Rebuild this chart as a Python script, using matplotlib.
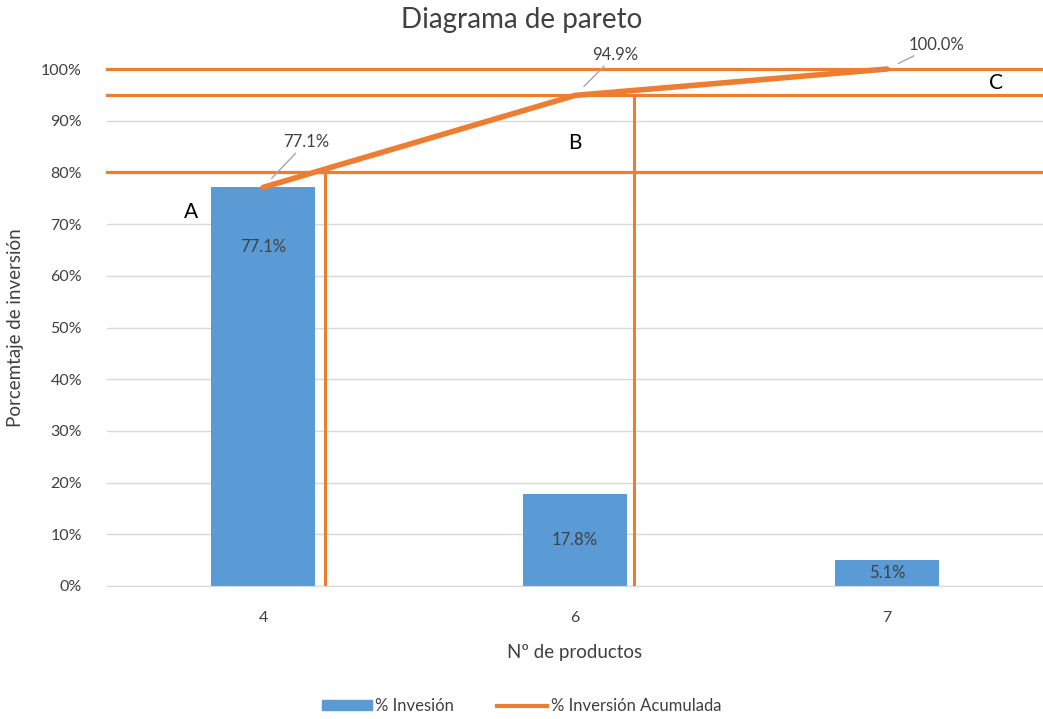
#!/usr/bin/env python3
"""
Pareto chart: % inversion per product group with cumulative line
"""

import matplotlib
matplotlib.use("Agg")
import matplotlib.pyplot as plt
from matplotlib.lines import Line2D
from matplotlib.patches import Patch

# data
categories = ["4", "6", "7"]
inversion = [77.1, 17.8, 5.1]          # % Invesión
acumulada = [77.1, 94.9, 100.0]        # % Inversión Acumulada
cortes = [80, 95, 100]                 # A/B/C limits
zonas = ["A", "B", "C"]

BLUE = "#5B9BD5"
ORANGE = "#ED7D31"
TXT = "#404040"

plt.rcParams["font.family"] = ["Lato", "DejaVu Sans"]

fig = plt.figure(figsize=(10.43, 7.19), dpi=100)
ax = fig.add_axes([0.1026, 0.185, 0.8974, 0.719])

x = list(range(len(categories)))

# 1. bars
ax.bar(x, inversion, width=0.333, color=BLUE, zorder=2)
for xi, v in zip(x, inversion):
    ax.text(xi, max(v / 2, v - 11.5), f"{v:.1f}%", ha="center", va="center",
            fontsize=12, color=TXT, zorder=5)

# 2. ABC limit lines
for c in cortes:
    ax.axhline(c, color=ORANGE, lw=2.3, zorder=3, clip_on=False)
ax.vlines([x[0] + 0.2, x[1] + 0.19], 0, cortes[:2], color=ORANGE, lw=2.2, zorder=3)

# 3. cumulative line
ax.plot(x, acumulada, color=ORANGE, lw=4, zorder=4, solid_capstyle="round",
        clip_on=False)
offsets = [(43, 45), (40, 40), (49, 24)]
for xi, v, off in zip(x, acumulada, offsets):
    ax.annotate(f"{v:.1f}%", (xi, v), xytext=off, textcoords="offset pixels",
                ha="center", va="center", fontsize=12, color=TXT,
                arrowprops=dict(arrowstyle="-", color="#A6A6A6", lw=1,
                                shrinkA=0, shrinkB=9),
                annotation_clip=False, zorder=6)

# zone letters
ax.text(-0.23, 72.3, zonas[0], fontsize=15, color="black", ha="center", va="center")
ax.text(0.0 + 1, 85.7, zonas[1], fontsize=15, color="black", ha="center", va="center")
ax.text(2.35, 97.3, zonas[2], fontsize=15, color="black", ha="center", va="center")

# axes cosmetics
ax.set_xlim(-0.5, 2.5)
ax.set_ylim(0, 100)
ax.set_yticks(range(0, 101, 10))
ax.set_yticklabels([f"{t}%" for t in range(0, 101, 10)])
ax.set_xticks(x)
ax.set_xticklabels(categories)
ax.tick_params(length=0, labelsize=11.5, labelcolor=TXT)
ax.tick_params(axis="y", pad=18)
ax.tick_params(axis="x", pad=18)
ax.grid(axis="y", color="#D9D9D9", lw=1, zorder=0)
ax.set_axisbelow(True)
for s in ["top", "right", "left"]:
    ax.spines[s].set_visible(False)
ax.spines["bottom"].set_color("#D9D9D9")

ax.set_xlabel("Nº de productos", fontsize=13.5, color=TXT, labelpad=14)
ax.set_ylabel("Porcemtaje de inversión", fontsize=13.5, color=TXT, labelpad=12)
fig.text(0.5, 0.972, "Diagrama de pareto", ha="center", va="center",
         fontsize=20, color=TXT)

handles = [Patch(color=BLUE, label="% Invesión"),
           Line2D([], [], color=ORANGE, lw=3, label="% Inversión Acumulada")]
fig.legend(handles=handles, loc="center", bbox_to_anchor=(0.5, 0.018), ncol=2,
           frameon=False, fontsize=12, labelcolor=TXT, handlelength=3,
           handleheight=0.5, handletextpad=0.2, columnspacing=2.6)

fig.savefig("out.png", dpi=100)
